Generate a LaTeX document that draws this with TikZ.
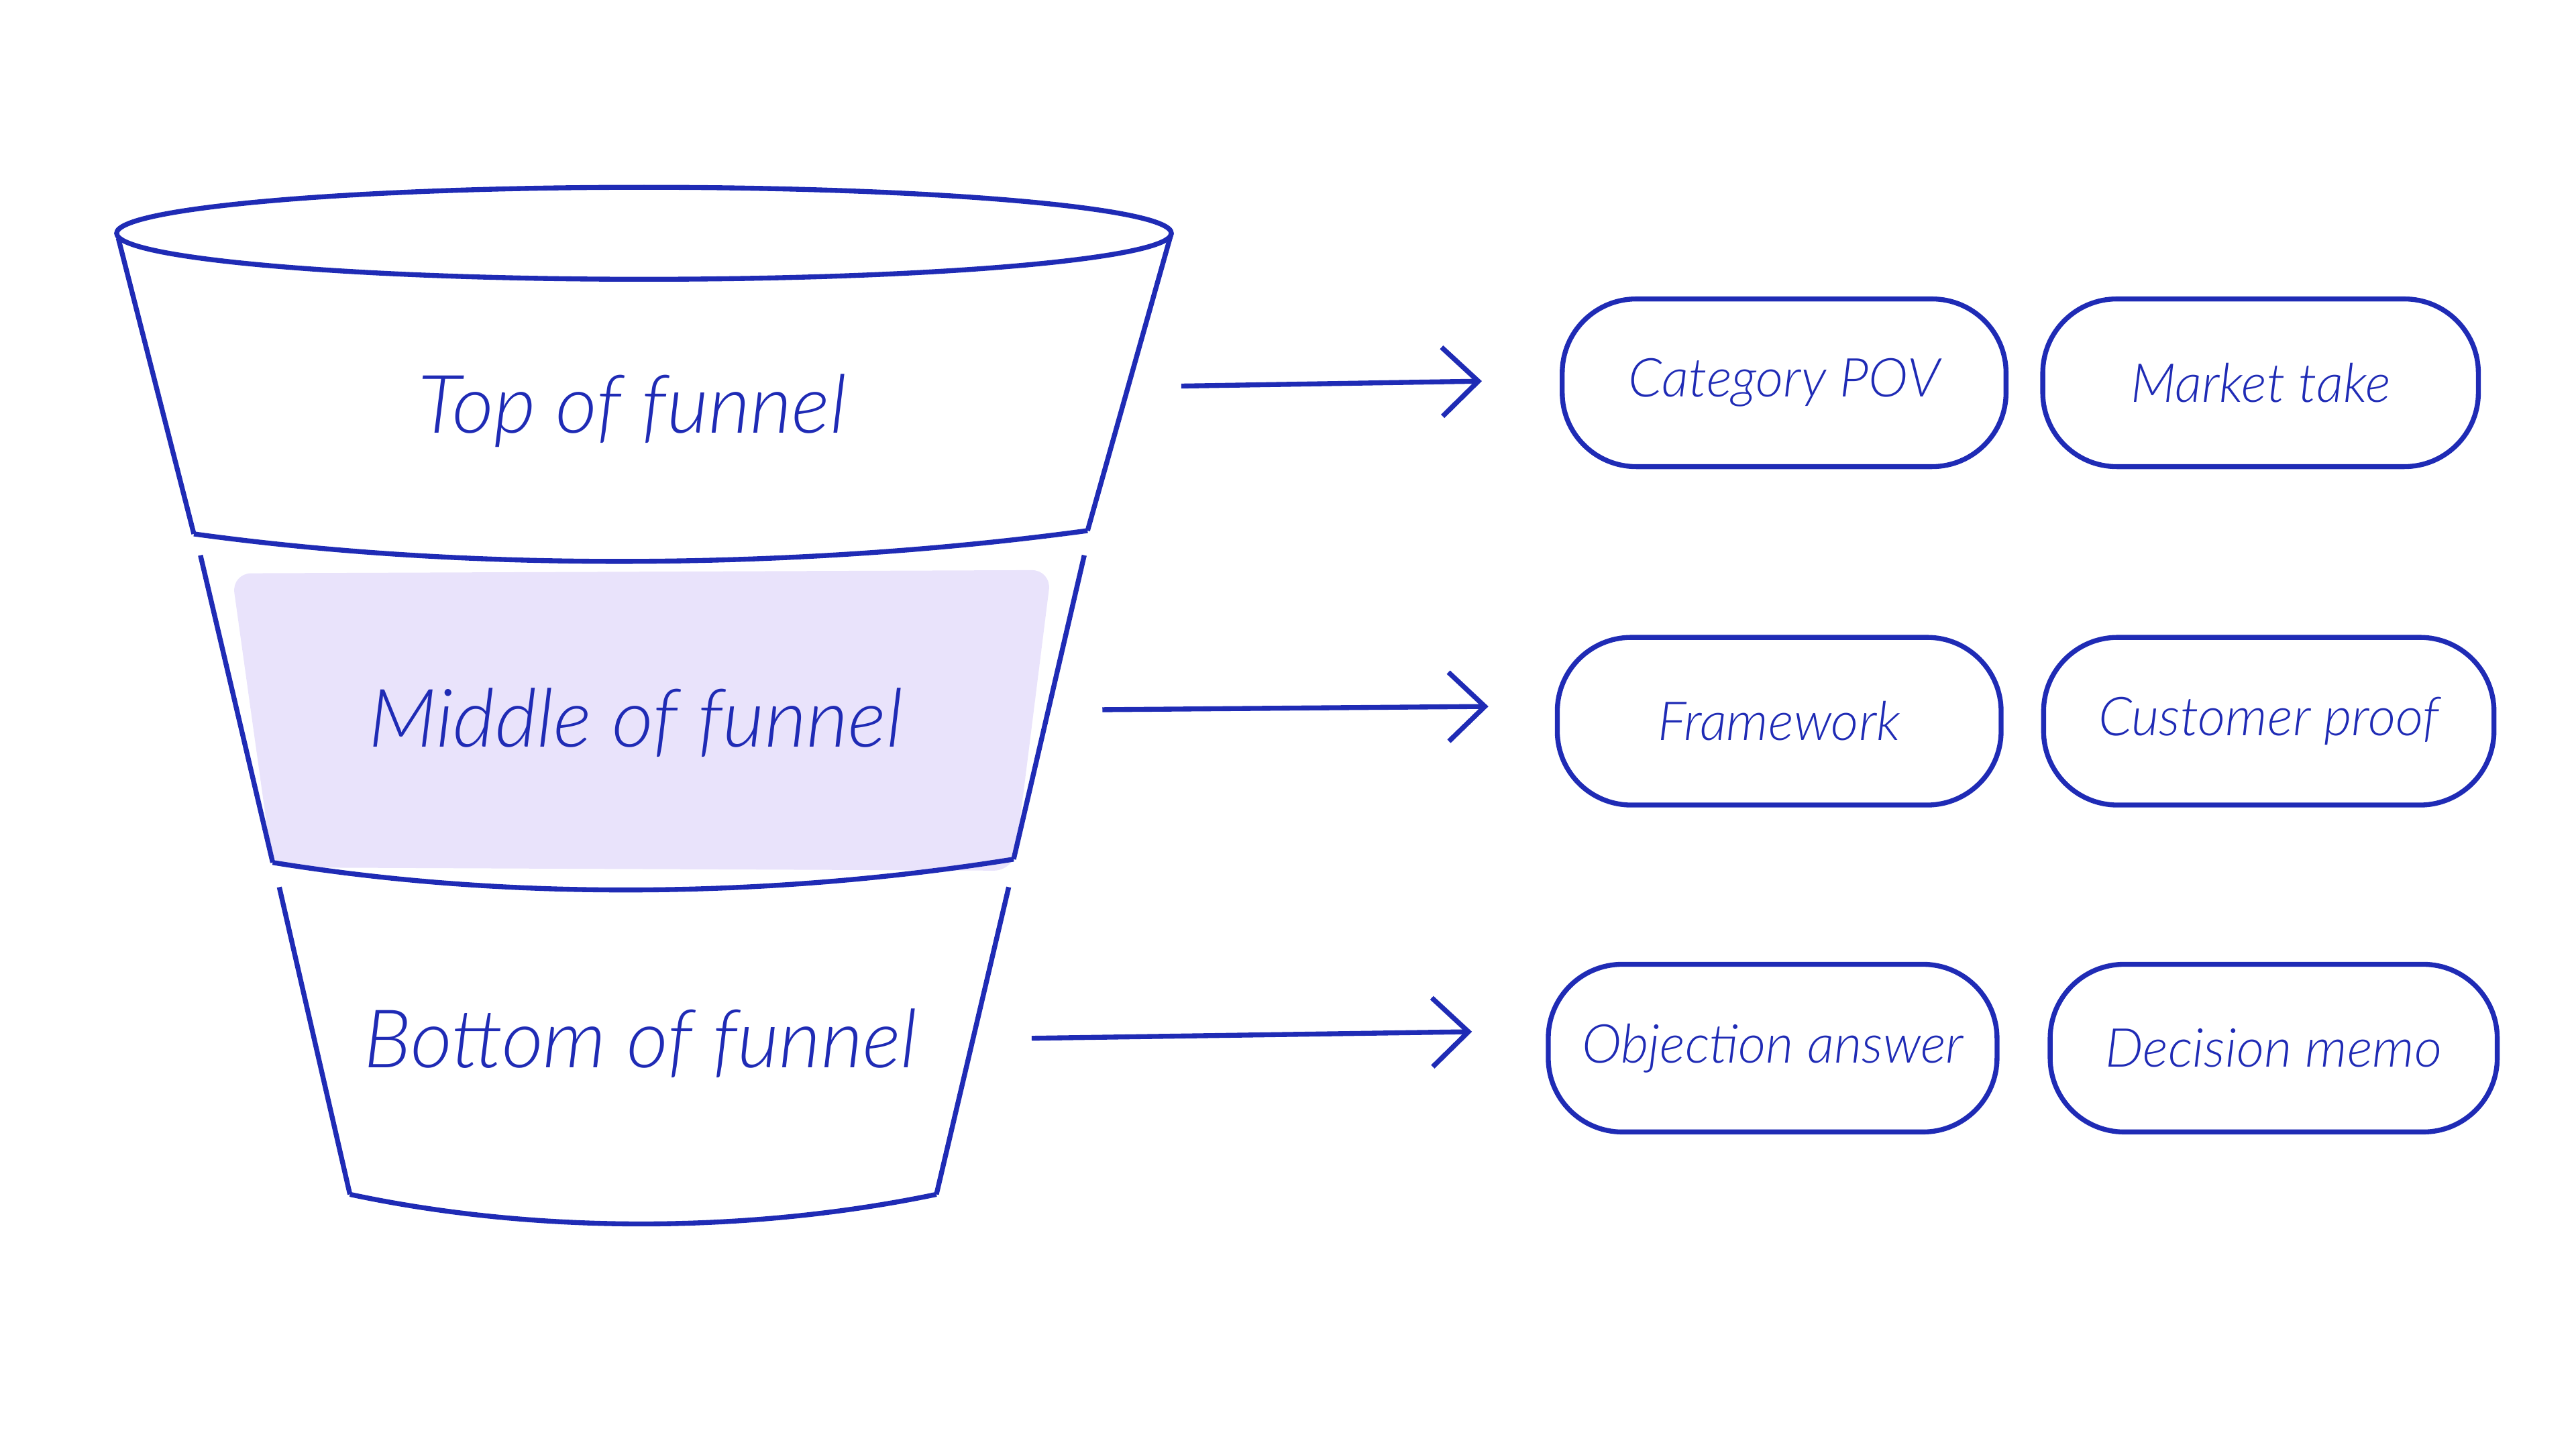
\documentclass[tikz,border=0pt]{standalone}
\usepackage{fontspec}
\setmainfont{Lato Light}
\usetikzlibrary{arrows.meta}
\definecolor{ink}{HTML}{1F2BB5}
\definecolor{lilac}{HTML}{E9E3FB}
\tikzset{
  edge/.style={draw=ink, line width=.3mm},
  stage/.style={text=ink, font=\fontsize{14}{17}\selectfont\itshape},
  item/.style={draw=ink, line width=.3mm, rounded corners=0.45cm, inner sep=0pt, minimum width=2.7cm, minimum height=1.02cm, text=ink, font=\fontsize{9.3}{11}\selectfont\itshape},
  flow/.style={draw=ink, line width=.3mm, -{Straight Barb[length=2.2mm,width=4.2mm]}},
}
\begin{document}
\begin{tikzpicture}[x=0.01cm,y=-0.01cm]
\useasboundingbox (0,0) rectangle (1568,882);
\fill[lilac, rounded corners=0.12cm] (141,349) -- (640,347) -- (617,530) -- (166,528) -- cycle;
\draw[edge] (392,142) ellipse [x radius=321, y radius=28];
\draw[edge] (72,145) -- (118,325);
\draw[edge] (713,142) -- (662,323);
\draw[edge] (118,325) .. controls (300,350) and (500,345) .. (662,323);
\draw[edge] (122,338) -- (166,525);
\draw[edge] (660,338) -- (617,523);
\draw[edge] (166,525) .. controls (320,550) and (480,545) .. (617,523);
\draw[edge] (170,540) -- (213,727);
\draw[edge] (614,540) -- (570,727);
\draw[edge] (213,727) .. controls (330,752) and (460,750) .. (570,727);
\node[stage] (top) at (385,250) {Top of funnel};
\node[stage] (mid) at (387,440) {Middle of funnel};
\node[stage] (bot) at (390,635) {Bottom of funnel};
\node[item] (pov) at (1086,233) {Category POV};
\node[item, minimum width=2.65cm] (take) at (1376,233) {Market take};
\node[item] (frame) at (1083,439) {Framework};
\node[item, minimum width=2.74cm] (proof) at (1381,439) {Customer proof};
\node[item, minimum width=2.73cm] (obj) at (1079,638) {Objection answer};
\node[item, minimum width=2.72cm] (memo) at (1384,638) {Decision memo};
\coordinate (t1) at (719,235); \coordinate (t2) at (902,232);
\coordinate (m1) at (671,432); \coordinate (m2) at (906,430);
\coordinate (b1) at (628,632); \coordinate (b2) at (896,628);
\draw[flow] (t1) -- (t2);
\draw[flow] (m1) -- (m2);
\draw[flow] (b1) -- (b2);
\end{tikzpicture}
\end{document}
